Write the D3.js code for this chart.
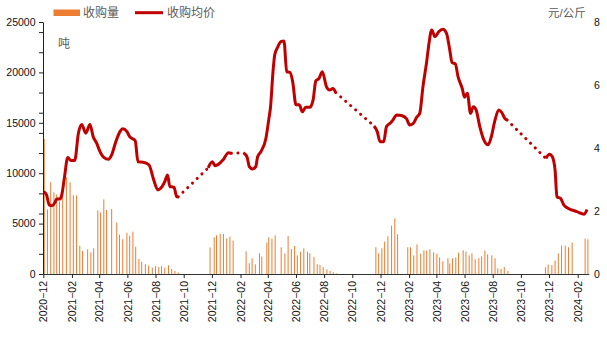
<!DOCTYPE html>
<html><head><meta charset="utf-8">
<script src="https://cdn.jsdelivr.net/npm/d3@7"></script>
<style>body{margin:0;background:#fff}svg{display:block}text{font-family:"Liberation Sans","Noto Sans CJK SC",Arial,sans-serif}</style>
</head><body><svg id="c" width="607" height="340"></svg>
<script>
// ---- data ----
const barDates = [
 "2020-12-03","2020-12-10","2020-12-17","2020-12-24","2020-12-30","2021-01-05","2021-01-12","2021-01-20","2021-01-28","2021-02-04",
 "2021-02-11","2021-02-18","2021-02-24","2021-03-07","2021-03-14","2021-03-20","2021-03-29","2021-04-04","2021-04-11","2021-04-17",
 "2021-04-28","2021-05-09","2021-05-15","2021-05-22","2021-05-31","2021-06-06","2021-06-13","2021-06-19","2021-06-26","2021-07-02",
 "2021-07-10","2021-07-17","2021-07-25","2021-08-01","2021-08-08","2021-08-14","2021-08-21","2021-08-29","2021-09-05","2021-09-12",
 "2021-09-19",
 "2021-11-27","2021-12-06","2021-12-11","2021-12-19","2021-12-26","2022-01-02","2022-01-09","2022-01-16",
 "2022-02-13","2022-02-20","2022-02-26","2022-03-05","2022-03-14","2022-03-19","2022-03-30","2022-04-03","2022-04-10","2022-04-17",
 "2022-04-30","2022-05-08","2022-05-15","2022-05-22","2022-05-29","2022-06-04","2022-06-11","2022-06-18","2022-06-26","2022-07-01",
 "2022-07-10","2022-07-17","2022-07-23","2022-07-30","2022-08-07","2022-08-14","2022-08-21","2022-08-28",
 "2022-11-21","2022-11-27","2022-12-04","2022-12-10","2022-12-17","2022-12-25","2023-01-01","2023-01-07",
 "2023-01-29","2023-02-04","2023-02-11","2023-02-18","2023-02-26","2023-03-05","2023-03-11","2023-03-18","2023-03-26","2023-04-02",
 "2023-04-08","2023-04-15","2023-04-26","2023-04-30","2023-05-06","2023-05-13","2023-05-19","2023-05-29","2023-06-04","2023-06-11",
 "2023-06-17","2023-06-24","2023-07-02","2023-07-08","2023-07-15","2023-07-21","2023-07-30","2023-08-06","2023-08-12","2023-08-19",
 "2023-08-26","2023-09-03",
 "2023-11-23","2023-11-29","2023-12-07","2023-12-14","2023-12-21","2023-12-28","2024-01-05","2024-01-12","2024-01-20",
 "2024-02-17","2024-02-23"
];
const barValues = [
 13400,6400,9100,8100,7900,7200,8000,9600,9100,7800,
 7800,2800,2300,2450,2150,2550,6300,6100,7400,6350,
 6450,5100,3900,3450,4100,3800,4200,2700,1500,1200,
 960,830,630,790,690,790,630,860,500,300,
 170,
 2640,3640,3840,3970,3970,3540,3700,3300,
 2250,1060,1560,960,2050,1720,3110,3640,3510,3840,
 2650,2050,3770,2480,2780,1850,2210,2550,2210,2050,
 1690,960,890,690,460,300,170,60,
 2650,2050,2550,3210,3740,4790,5520,3940,
 2650,2650,1850,2940,2020,2350,2320,2450,2150,2020,
 1650,1260,1560,1060,1560,1650,2120,2350,2220,1850,
 2050,1460,1560,1750,2320,1950,1850,1560,560,500,
 690,300,
 660,930,890,1320,2050,2810,2810,2650,3110,
 3510,3440
];
// price series; null marks an interval with no quotes (drawn dotted)
const priceDates = [
 "2020-12-02","2020-12-08","2020-12-14","2020-12-20","2020-12-26","2020-12-30","2021-01-06","2021-01-10","2021-01-16","2021-01-23",
 "2021-01-30","2021-02-07","2021-02-15","2021-02-22","2021-03-03","2021-03-12","2021-03-19","2021-03-26","2021-04-02","2021-04-11",
 "2021-04-21","2021-04-28","2021-05-07","2021-05-16","2021-05-22","2021-05-31","2021-06-06","2021-06-18","2021-06-24","2021-07-05",
 "2021-07-18","2021-07-27","2021-08-06","2021-08-15","2021-08-21","2021-08-27","2021-09-01","2021-09-05","2021-09-10","2021-09-16",
 "2021-09-19", null,
 "2021-11-23","2021-12-02","2021-12-08","2021-12-15","2021-12-25","2022-01-06","2022-01-12", null,
 "2022-02-07","2022-02-15","2022-02-20","2022-02-27","2022-03-06","2022-03-10","2022-03-17","2022-03-28","2022-04-03","2022-04-07",
 "2022-04-12","2022-04-16","2022-04-23","2022-04-29","2022-05-06","2022-05-12","2022-05-19","2022-05-25","2022-06-01","2022-06-08",
 "2022-06-15","2022-06-22","2022-07-01","2022-07-08","2022-07-14","2022-07-21","2022-07-28","2022-08-06","2022-08-13","2022-08-20",
 "2022-08-26", null,
 "2022-11-17","2022-11-24","2022-11-30","2022-12-08","2022-12-14","2022-12-23","2022-12-28","2023-01-05","2023-01-15","2023-01-26",
 "2023-02-02","2023-02-10","2023-02-17","2023-02-24","2023-03-03","2023-03-11","2023-03-16","2023-03-22","2023-03-29","2023-04-06",
 "2023-04-15","2023-04-23","2023-04-30","2023-05-05","2023-05-12","2023-05-18","2023-05-27","2023-06-01","2023-06-07","2023-06-14",
 "2023-06-20","2023-06-26","2023-07-04","2023-07-13","2023-07-22","2023-07-29","2023-08-05","2023-08-14","2023-08-21","2023-08-27",
 "2023-09-01", null,
 "2023-11-24","2023-12-02","2023-12-08","2023-12-14","2023-12-18","2023-12-26","2024-01-02","2024-01-11","2024-01-30","2024-02-15",
 "2024-02-21"
];
const priceValues = [
 2.61,2.51,2.19,2.17,2.26,2.38,2.38,2.51,3.09,3.70,
 3.60,3.60,4.47,4.75,4.47,4.75,4.36,4.17,3.91,3.70,
 3.64,3.78,4.20,4.52,4.61,4.52,4.36,4.23,3.56,3.55,
 3.46,3.04,2.67,2.77,2.93,3.14,2.77,2.77,2.75,2.45,
 2.45, null,
 3.37,3.56,3.44,3.48,3.62,3.85,3.83, null,
 3.85,3.72,3.41,3.33,3.41,3.72,3.88,4.31,4.89,5.31,
 6.37,6.95,7.22,7.38,7.40,6.42,6.40,6.10,5.37,5.37,
 5.15,5.29,5.29,5.52,6.13,6.21,6.42,5.95,5.84,5.89,
 5.76, null,
 4.70,4.52,4.20,4.20,4.68,4.80,4.89,5.05,5.03,4.94,
 4.73,4.78,4.97,5.10,5.95,6.74,7.32,7.75,7.53,7.69,
 7.77,7.64,7.11,6.71,6.67,6.26,5.89,5.61,5.74,5.10,
 5.31,5.21,4.68,4.25,4.10,4.36,4.83,5.21,5.12,4.94,
 4.89, null,
 3.67,3.80,3.72,3.30,2.45,2.40,2.19,2.09,1.98,1.90,
 2.05
];
const xTickLabels = ["2020-12","2021-02","2021-04","2021-06","2021-08","2021-10","2021-12","2022-02","2022-04","2022-06",
 "2022-08","2022-10","2022-12","2023-02","2023-04","2023-06","2023-08","2023-10","2023-12","2024-02"];
const leftLabelTicks = [0,5000,10000,15000,20000,25000];
const leftMinorTicks = [2000,4000,6000,8000,12000,14000,16000,18000,22000,24000];
const rightTicks = [0,2,4,6,8];
const seriesNames = ["收购量","收购均价"];
const leftUnit = "吨", rightUnit = "元/公斤";

// ---- drawing ----
const svg = d3.select("#c");
const parseD = d3.timeParse("%Y-%m-%d"), parseM = d3.timeParse("%Y-%m");
const x = d3.scaleTime().domain([parseD("2020-12-01"), parseD("2024-02-25")]).range([43.3, 588.8]);
const yL = d3.scaleLinear().domain([0,25000]).range([274,22]);
const yR = d3.scaleLinear().domain([0,8]).range([274,22]);
const BAR = "#ED7D31", LINE = "#C00000";

// bars
svg.append("g").selectAll("rect").data(barDates.map((d,i)=>({d:parseD(d), v:barValues[i]})))
 .join("rect")
 .attr("x", d => x(d.d) - 0.5).attr("width", 1.0)
 .attr("y", d => yL(d.v)).attr("height", d => yL(0) - yL(d.v))
 .attr("fill", BAR);

// left axis
const gl = svg.append("g").attr("transform","translate(43,0)")
 .call(d3.axisLeft(yL).tickValues([...leftLabelTicks, ...leftMinorTicks]).tickSize(4).tickSizeOuter(0)
   .tickFormat(d => leftLabelTicks.includes(d) ? String(d) : ""));
gl.select(".domain").attr("stroke","#222");
gl.selectAll(".tick line").attr("stroke","#222");
gl.selectAll(".tick text").attr("font-size","10.5px").attr("fill","#111").attr("x",-7.5);

// bottom axis
const gb = svg.append("g").attr("transform","translate(0,274)")
 .call(d3.axisBottom(x).tickValues(xTickLabels.map(parseM)).tickSize(4).tickSizeOuter(0)
   .tickFormat(d => d3.timeFormat("%Y")(d) + "\u2212" + d3.timeFormat("%m")(d)));
gb.select(".domain").attr("stroke","#333");
gb.selectAll(".tick line").attr("stroke","#222");
gb.selectAll(".tick text").attr("font-size","10.5px").attr("fill","#111")
 .attr("text-anchor","end").attr("transform","rotate(-90)").attr("x",-7).attr("y",0).attr("dy","0.35em");

// right axis labels
svg.append("g").selectAll("text").data(rightTicks).join("text")
 .attr("x", 594).attr("y", d => yR(d)).attr("dy","0.36em")
 .attr("font-size","10.5px").attr("fill","#111").text(d => d);

// price line
const pts = priceDates.map((d,i)=> d ? {d:parseD(d), v:priceValues[i]} : null);
const line = d3.line().defined(p => p).x(p => x(p.d)).y(p => yR(p.v)).curve(d3.curveMonotoneX);
// dotted connectors across gaps
const gaps = [];
pts.forEach((p,i) => { if (!p) gaps.push([pts[i-1], pts[i+1]]); });
svg.append("g").selectAll("path").data(gaps).join("path")
 .attr("d", g => d3.line().x(p=>x(p.d)).y(p=>yR(p.v))(g))
 .attr("fill","none").attr("stroke",LINE).attr("stroke-width",3)
 .attr("stroke-linecap","round").attr("stroke-dasharray","0.1 6.5");
svg.append("path").attr("d", line(pts)).attr("fill","none").attr("stroke",LINE)
 .attr("stroke-width",3).attr("stroke-linejoin","round");

// legend
svg.append("rect").attr("x",53.5).attr("y",9.5).attr("width",26.5).attr("height",6.5).attr("fill",BAR);
svg.append("text").attr("x",83).attr("y",13).attr("dy","0.36em").attr("font-size","12px").attr("fill","#595959").text(seriesNames[0]);
svg.append("line").attr("x1",135).attr("x2",163).attr("y1",12.7).attr("y2",12.7).attr("stroke",LINE).attr("stroke-width",3);
svg.append("text").attr("x",167).attr("y",13).attr("dy","0.36em").attr("font-size","12px").attr("fill","#595959").text(seriesNames[1]);
// units
svg.append("text").attr("x",58).attr("y",43.5).attr("dy","0.36em").attr("font-size","12px").attr("fill","#595959").text(leftUnit);
svg.append("text").attr("x",548).attr("y",13).attr("dy","0.36em").attr("font-size","11.5px").attr("fill","#595959").text(rightUnit);
</script></body></html>
